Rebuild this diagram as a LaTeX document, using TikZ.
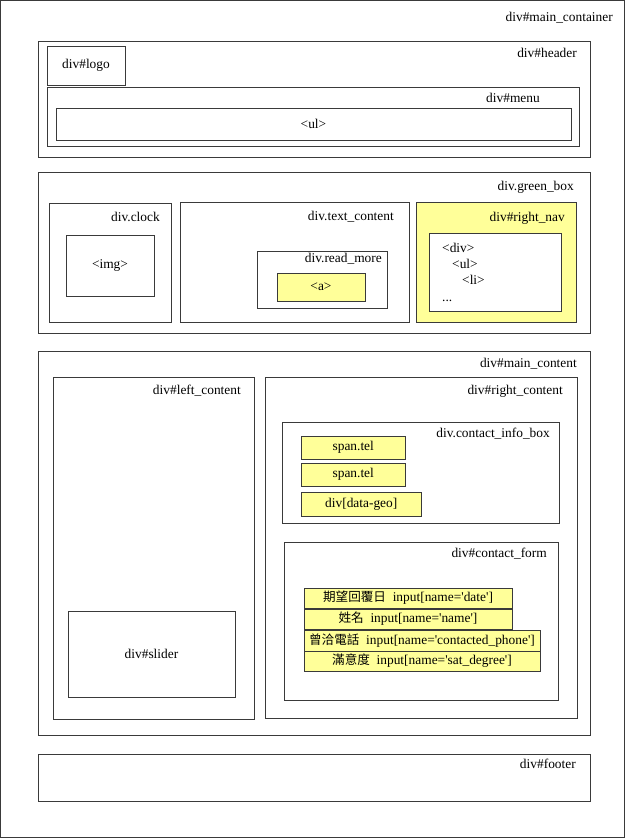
\documentclass[tikz,border=0pt]{standalone}
\usepackage{fontspec}
\newfontfamily\tms{Liberation Serif}
\newfontfamily\cjk{Noto Sans CJK TC}
\definecolor{lineg}{HTML}{3A3A3A}
\definecolor{hl}{HTML}{FFFF99}
\tikzset{
  box/.style={draw=lineg,line width=1pt,inner sep=0pt,outer sep=0pt,font=\tms\fontsize{13.4}{16}\selectfont},
  ybox/.style={box,fill=hl},
  lbl/.style={inner sep=0pt,anchor=base east,font=\tms\fontsize{13.4}{16}\selectfont},
  txt/.style={inner sep=0pt,anchor=base west,font=\tms\fontsize{13.4}{16}\selectfont}
}
\newcommand\bx[7][]{\node[box,#1,minimum width={#5-#3},minimum height={#6-#4}] (#2) at ({(#3+#5)/2},{(#4+#6)/2}) {#7};}
\begin{document}
\begin{tikzpicture}[x=1pt,y=-1pt]
\useasboundingbox (0,0) rectangle (625,838);
\fill[white] (0,0) rectangle (625,838);
\bx{main}{0.5}{0.5}{624}{837}{}
\node[lbl] (lmain) at (613,21.5) {div\#main\_container};
% header
\bx{header}{38}{41}{590}{157}{}
\node[lbl] (lheader) at (577,57.5) {div\#header};
\bx{logo}{47}{46}{125}{85}{div\#logo}
\bx{menu}{47}{87}{579}{146}{}
\node[lbl] (lmenu) at (540,102.5) {div\#menu};
\bx{ul}{56}{108}{571}{140}{<ul>}
% green box
\bx{green}{38}{172}{590}{333}{}
\node[lbl] (lgreen) at (574,190.5) {div.green\_box};
\bx{clock}{49}{203}{171}{322}{}
\node[lbl] (lclock) at (160,221.5) {div.clock};
\bx{img}{66}{235}{154}{296}{<img>}
\bx{textc}{180}{202}{409}{322}{}
\node[lbl] (ltextc) at (394,220.5) {div.text\_content};
\bx{readm}{257}{251}{387}{308}{}
\node[lbl] (lreadm) at (382,262.5) {div.read\_more};
\bx[ybox]{atag}{277}{273}{365}{301}{<a>}
\bx[ybox]{rnav}{416}{202}{576}{322}{}
\node[lbl] (lrnav) at (565,221.5) {div\#right\_nav};
\bx[fill=white]{rnavin}{429}{233}{561}{311}{}
\node[txt] (t1) at (442,252.5) {<div>};
\node[txt] (t2) at (452,268.5) {<ul>};
\node[txt] (t3) at (462,284.5) {<li>};
\node[txt] (t4) at (442,301.5) {...};
% main content
\bx{mainc}{38}{351}{590}{735}{}
\node[lbl] (lmainc) at (577,367.5) {div\#main\_content};
\bx{left}{53.5}{377}{254}{719}{}
\node[lbl] (lleft) at (241,394.5) {div\#left\_content};
\bx{slider}{68}{611}{235}{697}{div\#slider}
\bx{right}{265}{377}{577}{718}{}
\node[lbl] (lright) at (563,394.5) {div\#right\_content};
\bx{cinfo}{282.5}{422}{559}{523}{}
\node[lbl] (lcinfo) at (550,437.5) {div.contact\_info\_box};
\bx[ybox]{tel1}{301.5}{436}{405}{459}{span.tel}
\bx[ybox]{tel2}{301.5}{463}{405}{486}{span.tel}
\bx[ybox]{geo}{301.5}{492}{421}{516}{div[data-geo]}
\bx{cform}{284}{542}{558}{700}{}
\node[lbl] (lcform) at (547,557.5) {div\#contact\_form};
\bx[ybox]{in1}{304}{588}{512}{608}{{\cjk\fontsize{12.6}{15}\selectfont 期望回覆日}\hspace{0.5em}input[name='date']}
\bx[ybox]{in2}{304}{609}{512}{629}{{\cjk\fontsize{12.6}{15}\selectfont 姓名}\hspace{0.5em}input[name='name']}
\bx[ybox]{in3}{304}{630}{540}{651}{{\cjk\fontsize{12.6}{15}\selectfont 曾洽電話}\hspace{0.5em}input[name='contacted\_phone']}
\bx[ybox]{in4}{304}{651}{540}{671}{{\cjk\fontsize{12.6}{15}\selectfont 滿意度}\hspace{0.5em}input[name='sat\_degree']}
% footer
\bx{footer}{38}{754}{590}{801}{}
\node[lbl] (lfooter) at (576,768.5) {div\#footer};
\end{tikzpicture}
\end{document}
